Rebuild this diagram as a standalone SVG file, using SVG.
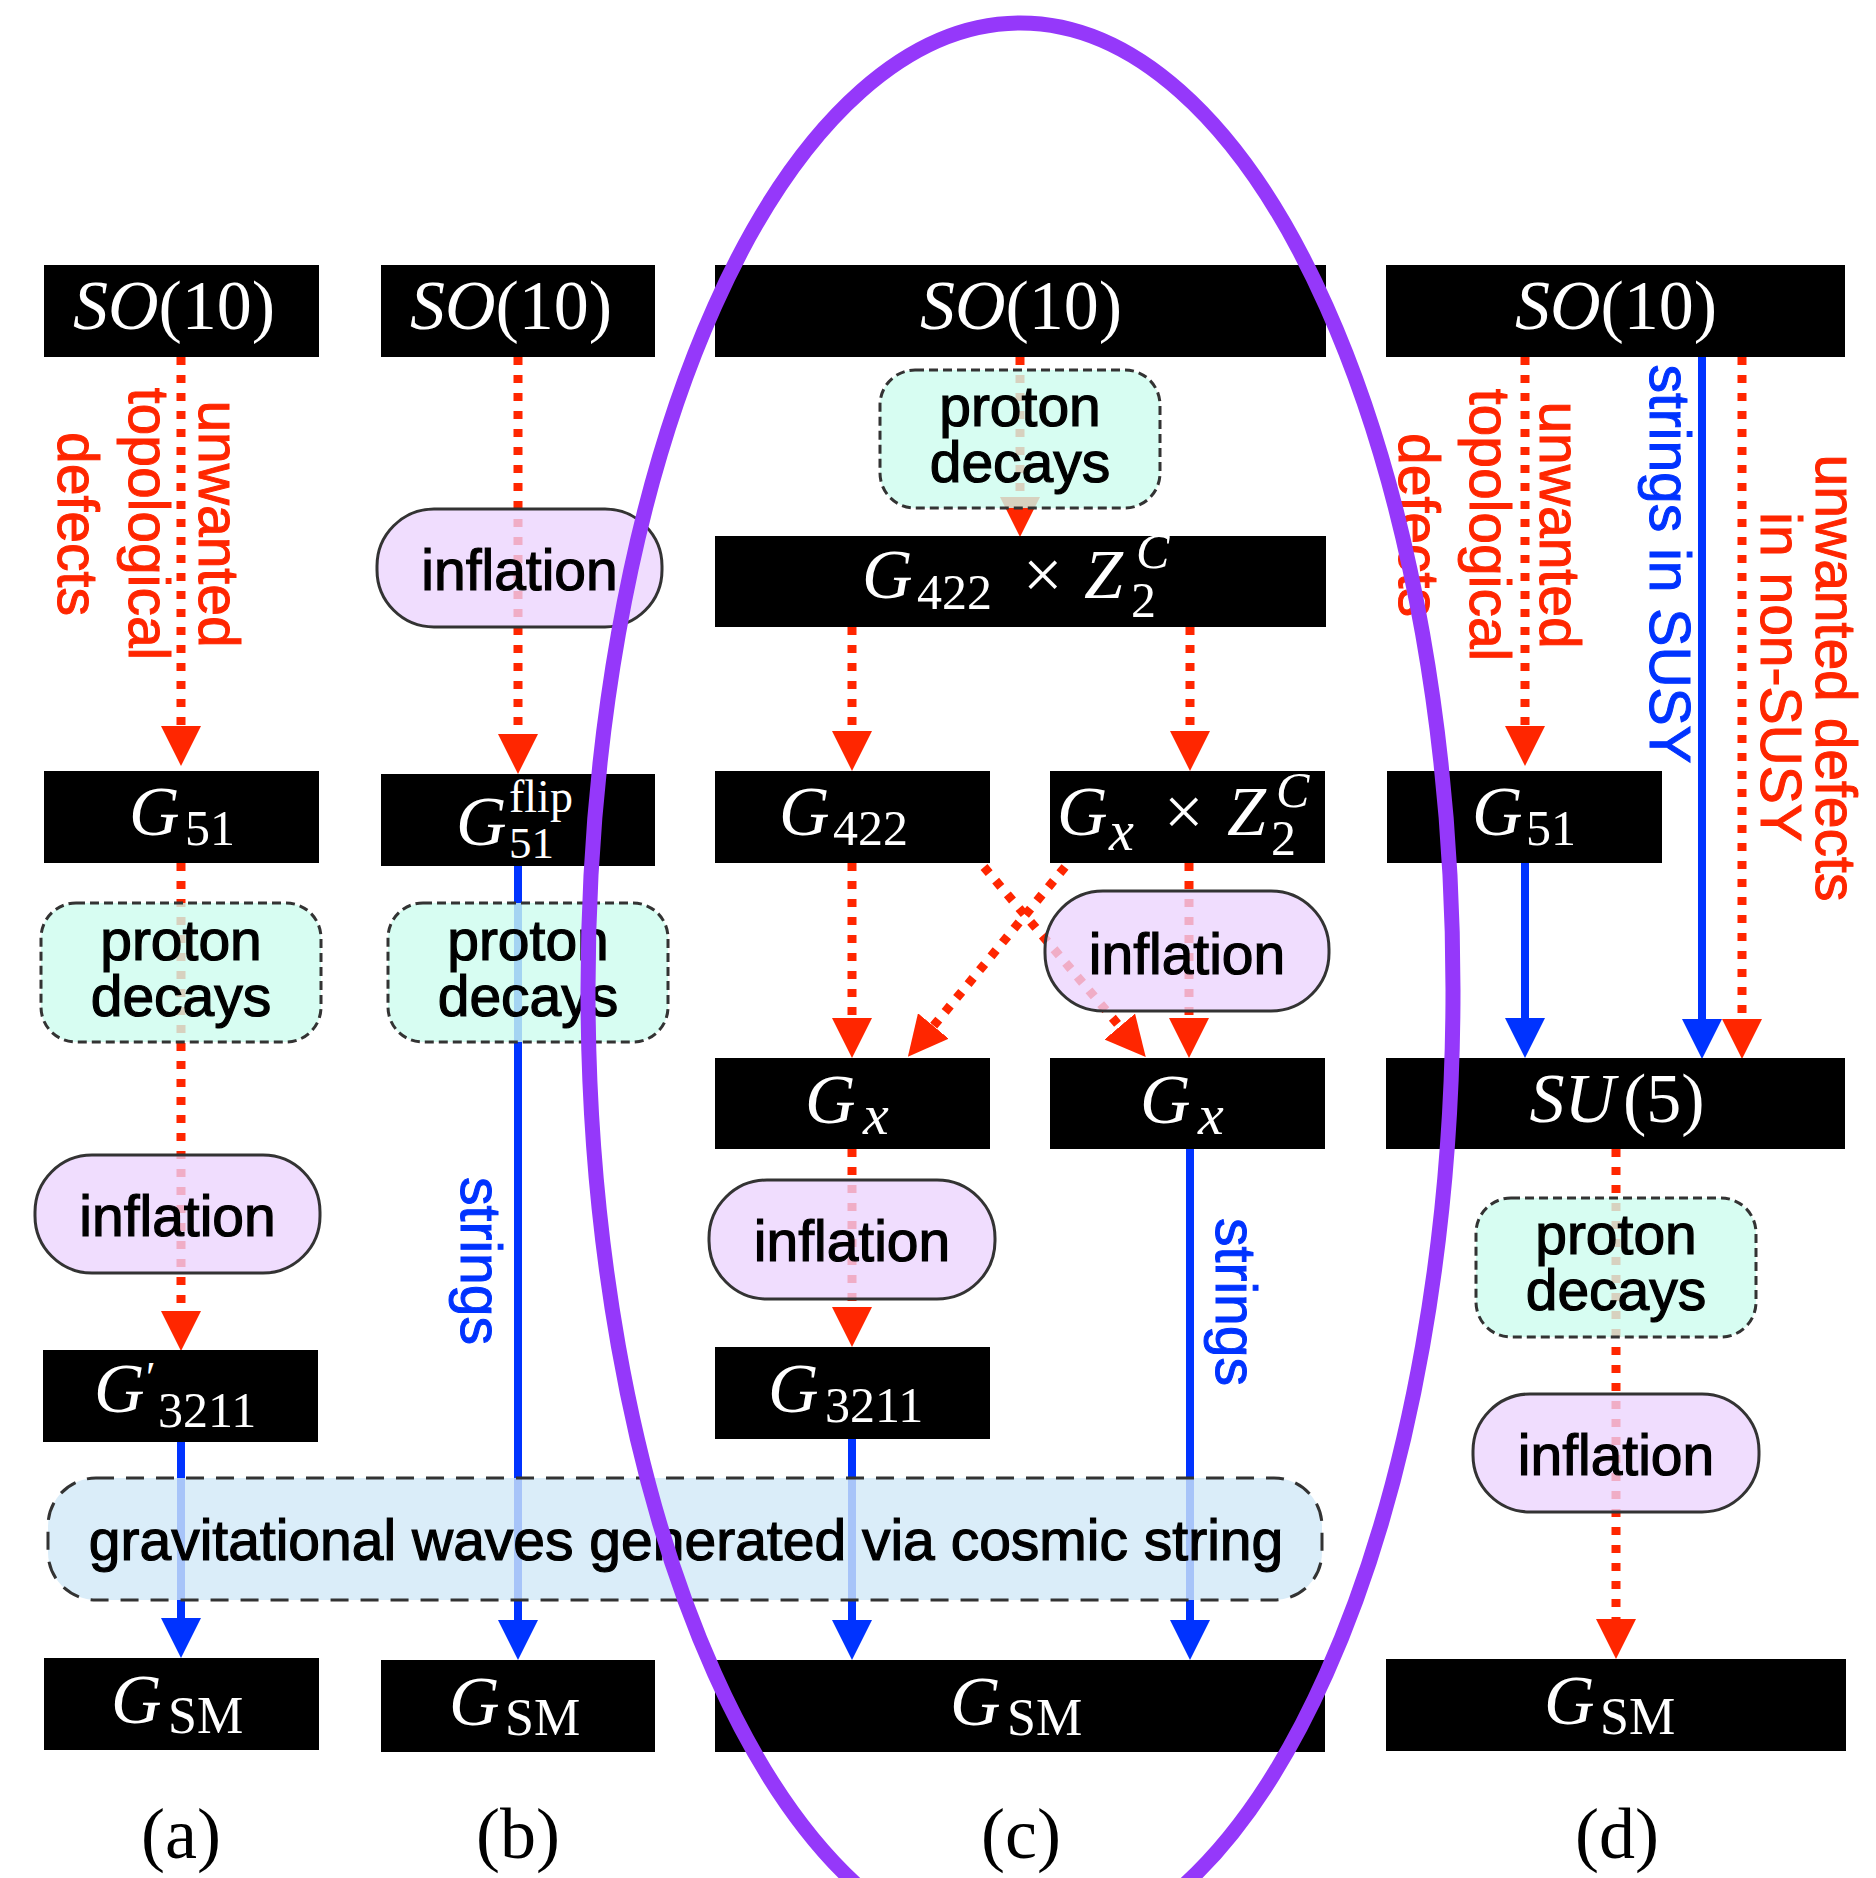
<svg xmlns="http://www.w3.org/2000/svg" width="1876" height="1878" viewBox="0 0 1876 1878">
<style>
.bx{fill:#000}
.pd{fill:#cdfcef;fill-opacity:.8;stroke:#333;stroke-width:3;stroke-dasharray:9 5}
.inf{fill:#ecd4fe;fill-opacity:.78;stroke:#333;stroke-width:3}
.gw{fill:#d1e8f8;fill-opacity:.8;stroke:#333;stroke-width:3;stroke-dasharray:18 12}
.lb{font-family:"Liberation Sans",Arial,sans-serif;font-size:57px;fill:#000;stroke:#000;stroke-width:1.2px;text-anchor:middle}
.rt{font-family:"Liberation Sans",Arial,sans-serif;font-size:57px;fill:#ff2600;stroke:#ff2600;stroke-width:1px;text-anchor:middle}
.bt{font-family:"Liberation Sans",Arial,sans-serif;font-size:57px;fill:#0033ff;stroke:#0033ff;stroke-width:1px;text-anchor:middle}
.m{font-family:"Liberation Serif","DejaVu Serif",serif;fill:#fff;font-size:70px}
.i{font-style:italic}
.s{font-size:50px}
.cap{font-family:"Liberation Serif","DejaVu Serif",serif;font-size:72px;fill:#000;text-anchor:middle}
.rd{fill:none;stroke:#ff2600;stroke-width:9;stroke-dasharray:8 10;marker-end:url(#ar)}
.bl{fill:none;stroke:#0033ff;stroke-width:8;marker-end:url(#ab)}
</style>
<defs>
<marker id="ar" viewBox="0 0 40 40" refX="0" refY="20" markerWidth="40" markerHeight="40" markerUnits="userSpaceOnUse" orient="auto"><path d="M0,0 L40,20 L0,40 z" fill="#ff2600"/></marker>
<marker id="ab" viewBox="0 0 40 40" refX="0" refY="20" markerWidth="40" markerHeight="40" markerUnits="userSpaceOnUse" orient="auto"><path d="M0,0 L40,20 L0,40 z" fill="#0033ff"/></marker>
</defs>
<rect width="1876" height="1878" fill="#fff"/>

<g id="connectors">
<path class="rd" d="M181,357 V726"/>
<path class="rd" d="M181,863 V1311"/>
<path class="rd" d="M518,357 V734"/>
<path class="rd" d="M1020,357 V497"/>
<path class="rd" d="M852,627 V731"/>
<path class="rd" d="M1190,627 V731"/>
<path class="rd" d="M852,863 V1018"/>
<path class="rd" d="M1189,863 V1018"/>
<path class="rd" d="M852,1149 V1307"/>
<path class="rd" d="M1065,867 L933.4,1026"/>
<path class="rd" d="M984,867 L1119.8,1026.5"/>
<path class="rd" d="M1525,357 V726"/>
<path class="rd" d="M1742,357 V1019"/>
<path class="rd" d="M1616,1149 V1619"/>
<path class="bl" d="M181,1442 V1618"/>
<path class="bl" d="M518,866 V1620"/>
<path class="bl" d="M852,1439 V1620"/>
<path class="bl" d="M1190,1149 V1620"/>
<path class="bl" d="M1525,863 V1018"/>
<path class="bl" d="M1702,357 V1019"/>
<text class="rt" transform="translate(199,524) rotate(90)">unwanted</text>
<text class="rt" transform="translate(128.5,524) rotate(90)">topological</text>
<text class="rt" transform="translate(58,524) rotate(90)">defects</text>
<text class="bt" transform="translate(461,1261) rotate(90)">strings</text>
<text class="bt" transform="translate(1216,1302) rotate(90)">strings</text>
<text class="rt" transform="translate(1540,525) rotate(90)">unwanted</text>
<text class="rt" transform="translate(1469.5,525) rotate(90)">topological</text>
<text class="rt" transform="translate(1399,525) rotate(90)">defects</text>
<text class="bt" transform="translate(1650,564) rotate(90)">strings in SUSY</text>
<text class="rt" transform="translate(1816,678) rotate(90)">unwanted defects</text>
<text class="rt" transform="translate(1761,677) rotate(90)">in non-SUSY</text>
</g>

<g id="a-so10"><rect class="bx" x="44" y="265" width="275" height="92"/><text class="m" x="174" y="329" text-anchor="middle" font-size="72"><tspan class="i">SO</tspan>(10)</text></g>
<g id="a-g51"><rect class="bx" x="44" y="771" width="275" height="92"/><text class="m" x="129" y="835"><tspan class="i">G</tspan><tspan class="s" x="185" y="845">51</tspan></text></g>
<g id="a-proton"><rect class="pd" x="41" y="903" width="280" height="139" rx="35"/><text class="lb" x="181" y="959.5">proton</text><text class="lb" x="181" y="1015.5">decays</text></g>
<g id="a-inflation"><rect class="inf" x="35" y="1155" width="285" height="118" rx="57"/><text class="lb" x="177.5" y="1236">inflation</text></g>
<g id="a-g3211p"><rect class="bx" x="43" y="1350" width="275" height="92"/><text class="m" x="94" y="1412"><tspan class="i">G</tspan><tspan x="146" y="1392" font-size="44">′</tspan><tspan class="s" x="158" y="1427">3211</tspan></text></g>
<g id="a-gsm"><rect class="bx" x="44" y="1658" width="275" height="92"/><text class="m" x="111" y="1723"><tspan class="i">G</tspan><tspan x="168" y="1733" font-size="52">SM</tspan></text></g>

<g id="b-so10"><rect class="bx" x="381" y="265" width="274" height="92"/><text class="m" x="511" y="329" text-anchor="middle" font-size="72"><tspan class="i">SO</tspan>(10)</text></g>
<g id="b-inflation"><rect class="inf" x="377" y="509" width="285" height="118" rx="57"/><text class="lb" x="519.5" y="590">inflation</text></g>
<g id="b-g51flip"><rect class="bx" x="381" y="774" width="274" height="92"/><text class="m" x="456" y="845"><tspan class="i">G</tspan><tspan x="509" y="812" font-size="46">flip</tspan><tspan x="509" y="858" font-size="45">51</tspan></text></g>
<g id="b-proton"><rect class="pd" x="388" y="903" width="280" height="139" rx="35"/><text class="lb" x="528" y="959.5">proton</text><text class="lb" x="528" y="1015.5">decays</text></g>
<g id="b-gsm"><rect class="bx" x="381" y="1660" width="274" height="92"/><text class="m" x="449" y="1725"><tspan class="i">G</tspan><tspan x="505" y="1735" font-size="52">SM</tspan></text></g>

<g id="c-so10"><rect class="bx" x="715" y="265" width="611" height="92"/><text class="m" x="1021" y="329" text-anchor="middle" font-size="72"><tspan class="i">SO</tspan>(10)</text></g>
<g id="c-proton"><rect class="pd" x="880" y="370" width="280" height="138" rx="35"/><text class="lb" x="1020" y="426">proton</text><text class="lb" x="1020" y="482">decays</text></g>
<g id="c-g422z"><rect class="bx" x="715" y="536" width="611" height="91"/><text class="m" x="862" y="598"><tspan class="i">G</tspan><tspan class="s" x="917" y="609">422</tspan><tspan x="1023" y="598">×</tspan><tspan class="i" x="1084" y="598">Z</tspan><tspan class="s i" x="1136" y="568">C</tspan><tspan class="s" x="1131" y="617">2</tspan></text></g>
<g id="c-g422"><rect class="bx" x="715" y="771" width="275" height="92"/><text class="m" x="779" y="835"><tspan class="i">G</tspan><tspan class="s" x="833" y="845">422</tspan></text></g>
<g id="c-gxz"><rect class="bx" x="1050" y="771" width="275" height="92"/><text class="m" x="1057" y="835"><tspan class="i">G</tspan><tspan class="i" x="1109" y="850" font-size="56">x</tspan><tspan x="1164" y="835">×</tspan><tspan class="i" x="1227" y="835">Z</tspan><tspan class="s i" x="1276" y="807">C</tspan><tspan class="s" x="1271" y="855">2</tspan></text></g>
<g id="c-inflation-r"><rect class="inf" x="1045" y="891" width="284" height="120" rx="58"/><text class="lb" x="1187" y="973.5">inflation</text></g>
<g id="c-gx-l"><rect class="bx" x="715" y="1058" width="275" height="91"/><text class="m" x="805" y="1123" font-size="72"><tspan class="i">G</tspan><tspan class="i" x="863" y="1134" font-size="58">x</tspan></text></g>
<g id="c-gx-r"><rect class="bx" x="1050" y="1058" width="275" height="91"/><text class="m" x="1140" y="1123" font-size="72"><tspan class="i">G</tspan><tspan class="i" x="1198" y="1134" font-size="58">x</tspan></text></g>
<g id="c-inflation-l"><rect class="inf" x="709" y="1180" width="286" height="119" rx="58"/><text class="lb" x="852" y="1260.5">inflation</text></g>
<g id="c-g3211"><rect class="bx" x="715" y="1347" width="275" height="92"/><text class="m" x="768" y="1412"><tspan class="i">G</tspan><tspan class="s" x="825" y="1422">3211</tspan></text></g>
<g id="c-gsm"><rect class="bx" x="715" y="1660" width="610" height="92"/><text class="m" x="950" y="1725"><tspan class="i">G</tspan><tspan x="1007" y="1735" font-size="52">SM</tspan></text></g>

<g id="d-so10"><rect class="bx" x="1386" y="265" width="459" height="92"/><text class="m" x="1616" y="329" text-anchor="middle" font-size="72"><tspan class="i">SO</tspan>(10)</text></g>
<g id="d-g51"><rect class="bx" x="1387" y="771" width="275" height="92"/><text class="m" x="1472" y="835"><tspan class="i">G</tspan><tspan class="s" x="1526" y="845">51</tspan></text></g>
<g id="d-su5"><rect class="bx" x="1386" y="1058" width="459" height="91"/><text class="m" x="1617" y="1122" text-anchor="middle" font-size="72"><tspan class="i">SU</tspan><tspan dx="8">(5)</tspan></text></g>
<g id="d-proton"><rect class="pd" x="1476" y="1198" width="280" height="139" rx="35"/><text class="lb" x="1616" y="1254">proton</text><text class="lb" x="1616" y="1310">decays</text></g>
<g id="d-inflation"><rect class="inf" x="1473" y="1394" width="286" height="118" rx="57"/><text class="lb" x="1616" y="1475">inflation</text></g>
<g id="d-gsm"><rect class="bx" x="1386" y="1659" width="460" height="92"/><text class="m" x="1544" y="1724"><tspan class="i">G</tspan><tspan x="1600" y="1734" font-size="52">SM</tspan></text></g>

<g id="gw"><rect class="gw" x="48" y="1478" width="1274" height="122" rx="48"/><text class="lb" x="686" y="1560">gravitational waves generated via cosmic string</text></g>

<g id="captions">
<text class="cap" x="181" y="1858">(a)</text>
<text class="cap" x="518" y="1858">(b)</text>
<text class="cap" x="1021" y="1858">(c)</text>
<text class="cap" x="1617" y="1858">(d)</text>
</g>

<g id="highlight"><ellipse cx="1020.5" cy="990" rx="432.5" ry="967" fill="none" stroke="#9538fa" stroke-width="15"/></g>
</svg>
